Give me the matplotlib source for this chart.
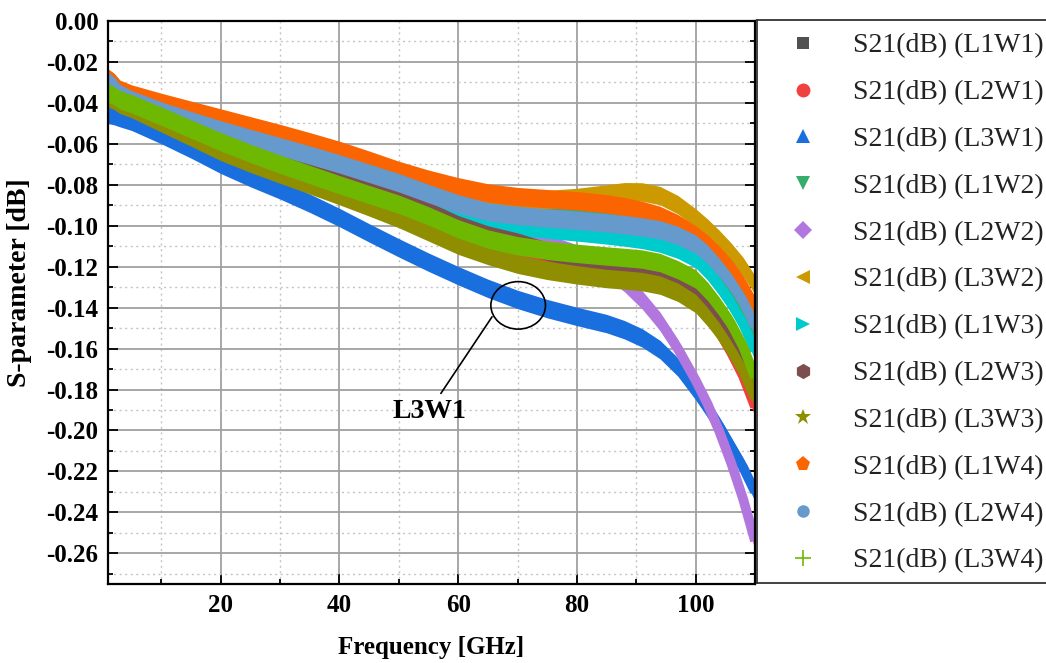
import numpy as np
import matplotlib
matplotlib.use("Agg")
import matplotlib.pyplot as plt
from matplotlib.lines import Line2D
from matplotlib.patches import Ellipse
from matplotlib.ticker import MultipleLocator

plt.rcParams.update({
    "font.family": "serif",
    "font.serif": ["Liberation Serif", "DejaVu Serif"],
})

# frequency points (GHz) and S21 (dB)
FREQ = [1, 2, 3, 5, 10, 15, 20, 25, 30, 35, 40, 45, 50, 55, 60, 65, 70, 75, 80,
        85, 88, 91, 94, 97, 100, 102, 104, 106, 108, 110]

S21_L1W1 = [-0.0308, -0.0329, -0.0365, -0.0395, -0.0450, -0.0498, -0.0546, -0.0590, -0.0632,
            -0.0676, -0.0722, -0.0770, -0.0818, -0.0869, -0.0918, -0.0954, -0.0973, -0.0986,
            -0.0998, -0.1013, -0.1023, -0.1035, -0.1051, -0.1080, -0.1125, -0.1180, -0.1250,
            -0.1330, -0.1425, -0.1550]
S21_L2W1 = [-0.0360, -0.0372, -0.0392, -0.0412, -0.0475, -0.0540, -0.0605, -0.0662, -0.0715,
            -0.0765, -0.0815, -0.0863, -0.0912, -0.0965, -0.1025, -0.1075, -0.1115, -0.1150,
            -0.1175, -0.1195, -0.1205, -0.1215, -0.1240, -0.1290, -0.1355, -0.1430, -0.1520,
            -0.1620, -0.1735, -0.1885]
S21_L3W1 = [-0.0456, -0.0462, -0.0472, -0.0490, -0.0555, -0.0625, -0.0700, -0.0765, -0.0825,
            -0.0890, -0.0960, -0.1035, -0.1108, -0.1178, -0.1244, -0.1306, -0.1360, -0.1405,
            -0.1443, -0.1478, -0.1508, -0.1548, -0.1605, -0.1690, -0.1805, -0.1890, -0.1980,
            -0.2080, -0.2180, -0.2300]
S21_L1W2 = [-0.0280, -0.0300, -0.0335, -0.0362, -0.0415, -0.0462, -0.0507, -0.0549, -0.0589,
            -0.0630, -0.0673, -0.0719, -0.0765, -0.0818, -0.0868, -0.0903, -0.0920, -0.0930,
            -0.0940, -0.0955, -0.0967, -0.0980, -0.0997, -0.1030, -0.1085, -0.1145, -0.1220,
            -0.1310, -0.1410, -0.1550]
S21_L2W2 = [-0.0340, -0.0352, -0.0372, -0.0392, -0.0455, -0.0518, -0.0580, -0.0637, -0.0690,
            -0.0740, -0.0790, -0.0838, -0.0885, -0.0938, -0.0990, -0.1035, -0.1058, -0.1088,
            -0.1138, -0.1212, -0.1277, -0.1362, -0.1467, -0.1600, -0.1755, -0.1870, -0.2005,
            -0.2160, -0.2335, -0.2540]
S21_L3W2 = [-0.0295, -0.0315, -0.0350, -0.0373, -0.0415, -0.0455, -0.0495, -0.0535, -0.0575,
            -0.0615, -0.0658, -0.0706, -0.0756, -0.0800, -0.0838, -0.0866, -0.0876, -0.0872,
            -0.0862, -0.0845, -0.0834, -0.0835, -0.0853, -0.0897, -0.0962, -0.1012, -0.1068,
            -0.1130, -0.1200, -0.1290]
S21_L1W3 = [-0.0320, -0.0340, -0.0375, -0.0405, -0.0460, -0.0510, -0.0560, -0.0605, -0.0650,
            -0.0697, -0.0745, -0.0795, -0.0845, -0.0900, -0.0950, -0.0983, -0.1003, -0.1017,
            -0.1030, -0.1045, -0.1055, -0.1067, -0.1085, -0.1115, -0.1160, -0.1220, -0.1295,
            -0.1380, -0.1480, -0.1610]
S21_L2W3 = [-0.0330, -0.0343, -0.0363, -0.0383, -0.0443, -0.0506, -0.0568, -0.0625, -0.0678,
            -0.0728, -0.0778, -0.0826, -0.0873, -0.0928, -0.0995, -0.1045, -0.1080, -0.1125,
            -0.1163, -0.1190, -0.1200, -0.1208, -0.1228, -0.1265, -0.1320, -0.1385, -0.1460,
            -0.1550, -0.1650, -0.1800]
S21_L3W3 = [-0.0375, -0.0387, -0.0407, -0.0428, -0.0498, -0.0567, -0.0637, -0.0695, -0.0748,
            -0.0800, -0.0853, -0.0908, -0.0965, -0.1030, -0.1095, -0.1145, -0.1188, -0.1218,
            -0.1240, -0.1258, -0.1265, -0.1273, -0.1290, -0.1325, -0.1380, -0.1445, -0.1520,
            -0.1610, -0.1710, -0.1840]
S21_L1W4 = [-0.0280, -0.0300, -0.0334, -0.0357, -0.0398, -0.0436, -0.0474, -0.0512, -0.0550,
            -0.0590, -0.0632, -0.0680, -0.0730, -0.0773, -0.0810, -0.0840, -0.0858, -0.0868,
            -0.0878, -0.0893, -0.0907, -0.0925, -0.0950, -0.0990, -0.1045, -0.1090, -0.1145,
            -0.1210, -0.1290, -0.1395]
S21_L2W4 = [-0.0296, -0.0318, -0.0355, -0.0385, -0.0440, -0.0487, -0.0532, -0.0574, -0.0614,
            -0.0655, -0.0698, -0.0744, -0.0790, -0.0843, -0.0893, -0.0932, -0.0950, -0.0962,
            -0.0973, -0.0986, -0.0995, -0.1006, -0.1020, -0.1048, -0.1090, -0.1140, -0.1205,
            -0.1280, -0.1370, -0.1490]
S21_L3W4 = [-0.0352, -0.0365, -0.0385, -0.0405, -0.0465, -0.0528, -0.0590, -0.0647, -0.0700,
            -0.0750, -0.0800, -0.0848, -0.0895, -0.0952, -0.1015, -0.1065, -0.1098, -0.1120,
            -0.1135, -0.1148, -0.1155, -0.1163, -0.1180, -0.1215, -0.1260, -0.1320, -0.1395,
            -0.1480, -0.1590, -0.1740]

LABELS = ["S21(dB) (L1W1)", "S21(dB) (L2W1)", "S21(dB) (L3W1)", "S21(dB) (L1W2)",
          "S21(dB) (L2W2)", "S21(dB) (L3W2)", "S21(dB) (L1W3)", "S21(dB) (L2W3)",
          "S21(dB) (L3W3)", "S21(dB) (L1W4)", "S21(dB) (L2W4)", "S21(dB) (L3W4)"]
VALUES = [S21_L1W1, S21_L2W1, S21_L3W1, S21_L1W2, S21_L2W2, S21_L3W2,
          S21_L1W3, S21_L2W3, S21_L3W3, S21_L1W4, S21_L2W4, S21_L3W4]

COLORS = ["#515151", "#f14040", "#1a6fdf", "#37ad6b", "#b177de", "#cc9900",
          "#00cbcc", "#7d4e4e", "#8e8e00", "#fb6501", "#6699cc", "#6fb802"]
MARKERS = ["s", "o", "^", "v", "D", "<", ">", "h", "*", "p", "o", "+"]
MSIZES = [8, 10, 10, 10, 9, 10, 10, 11, 12, 11, 9, 12]

BAND = 0.0045  # half thickness of the dense-marker band (dB)

fig = plt.figure(figsize=(10.46, 6.63), dpi=100)
ax = fig.add_axes([108 / 1046, 1 - 584 / 663, (755 - 108) / 1046, (584 - 21) / 663])

freq = np.array(FREQ)
for i, vals in enumerate(VALUES):
    v = np.array(vals)
    z = 2 + i * 0.01
    ax.fill_between(freq, v - BAND, v + BAND, color=COLORS[i], lw=0, zorder=z)
    # the marker cloud also thickens where the curve is steep
    ax.plot(freq, v, color=COLORS[i], lw=7, solid_joinstyle="round",
            solid_capstyle="butt", zorder=z)

ax.set_xlim(1, 110)
ax.set_ylim(-0.275, 0.0)
ax.xaxis.set_major_locator(MultipleLocator(20))
ax.xaxis.set_minor_locator(MultipleLocator(10))
ax.yaxis.set_major_locator(MultipleLocator(0.02))
ax.yaxis.set_minor_locator(MultipleLocator(0.01))
ax.yaxis.set_major_formatter(plt.FuncFormatter(lambda v, p: f"{v:.2f}"))

ax.grid(which="major", color="#a0a0a0", lw=1.3, zorder=0)
ax.grid(which="minor", color="#c4c4c4", lw=1.0, ls=(0, (1.5, 2.5)), zorder=0)
ax.set_axisbelow(True)

ax.tick_params(which="both", direction="in", left=True, right=True, bottom=True, top=False,
               width=1.3, color="black")
ax.tick_params(which="major", length=7, labelsize=18, pad=7)
ax.tick_params(which="minor", length=3.5)
for lab in ax.get_xticklabels() + ax.get_yticklabels():
    lab.set_fontweight("bold")
for sp in ax.spines.values():
    sp.set_linewidth(1.6)
    sp.set_color("black")
    sp.set_zorder(10)

ax.set_xlabel("Frequency [GHz]", fontsize=18, fontweight="bold", labelpad=14)
ax.set_ylabel("S-parameter [dB]", fontsize=20, fontweight="bold")
ax.yaxis.set_label_coords(-0.118, 0.535)

# callout for L3W1
ax.add_patch(Ellipse((70.1, -0.1389), 9.2, 0.0232, fill=False, ec="black", lw=1.2, zorder=5))
ax.annotate("L3W1", xy=(65.7, -0.1445), xytext=(55.1, -0.1905),
            fontsize=20, fontweight="bold", ha="center", va="center",
            arrowprops=dict(arrowstyle="-", color="black", lw=1.2, shrinkA=2, shrinkB=0),
            zorder=6)

# legend panel on the right
lax = fig.add_axes([757 / 1046, 1 - 583 / 663, 0.45, (583 - 20) / 663])
lax.set_xticks([])
lax.set_yticks([])
for sp in lax.spines.values():
    sp.set_linewidth(1.3)
    sp.set_color("#333333")

handles = [Line2D([], [], ls="none", marker=MARKERS[i], color=COLORS[i],
                  markersize=MSIZES[i], mew=1.2 if MARKERS[i] == "+" else 0)
           for i in range(len(LABELS))]
leg = lax.legend(handles, LABELS, loc="upper left", bbox_to_anchor=(789 / 1046, 1 - 33 / 663),
                 bbox_transform=fig.transFigure, frameon=False, fontsize=20,
                 handlelength=1.0, handletextpad=1.3, labelspacing=0.77,
                 borderpad=0, borderaxespad=0)
for t in leg.get_texts():
    t.set_color("#222222")

fig.savefig("out.png", dpi=100)
